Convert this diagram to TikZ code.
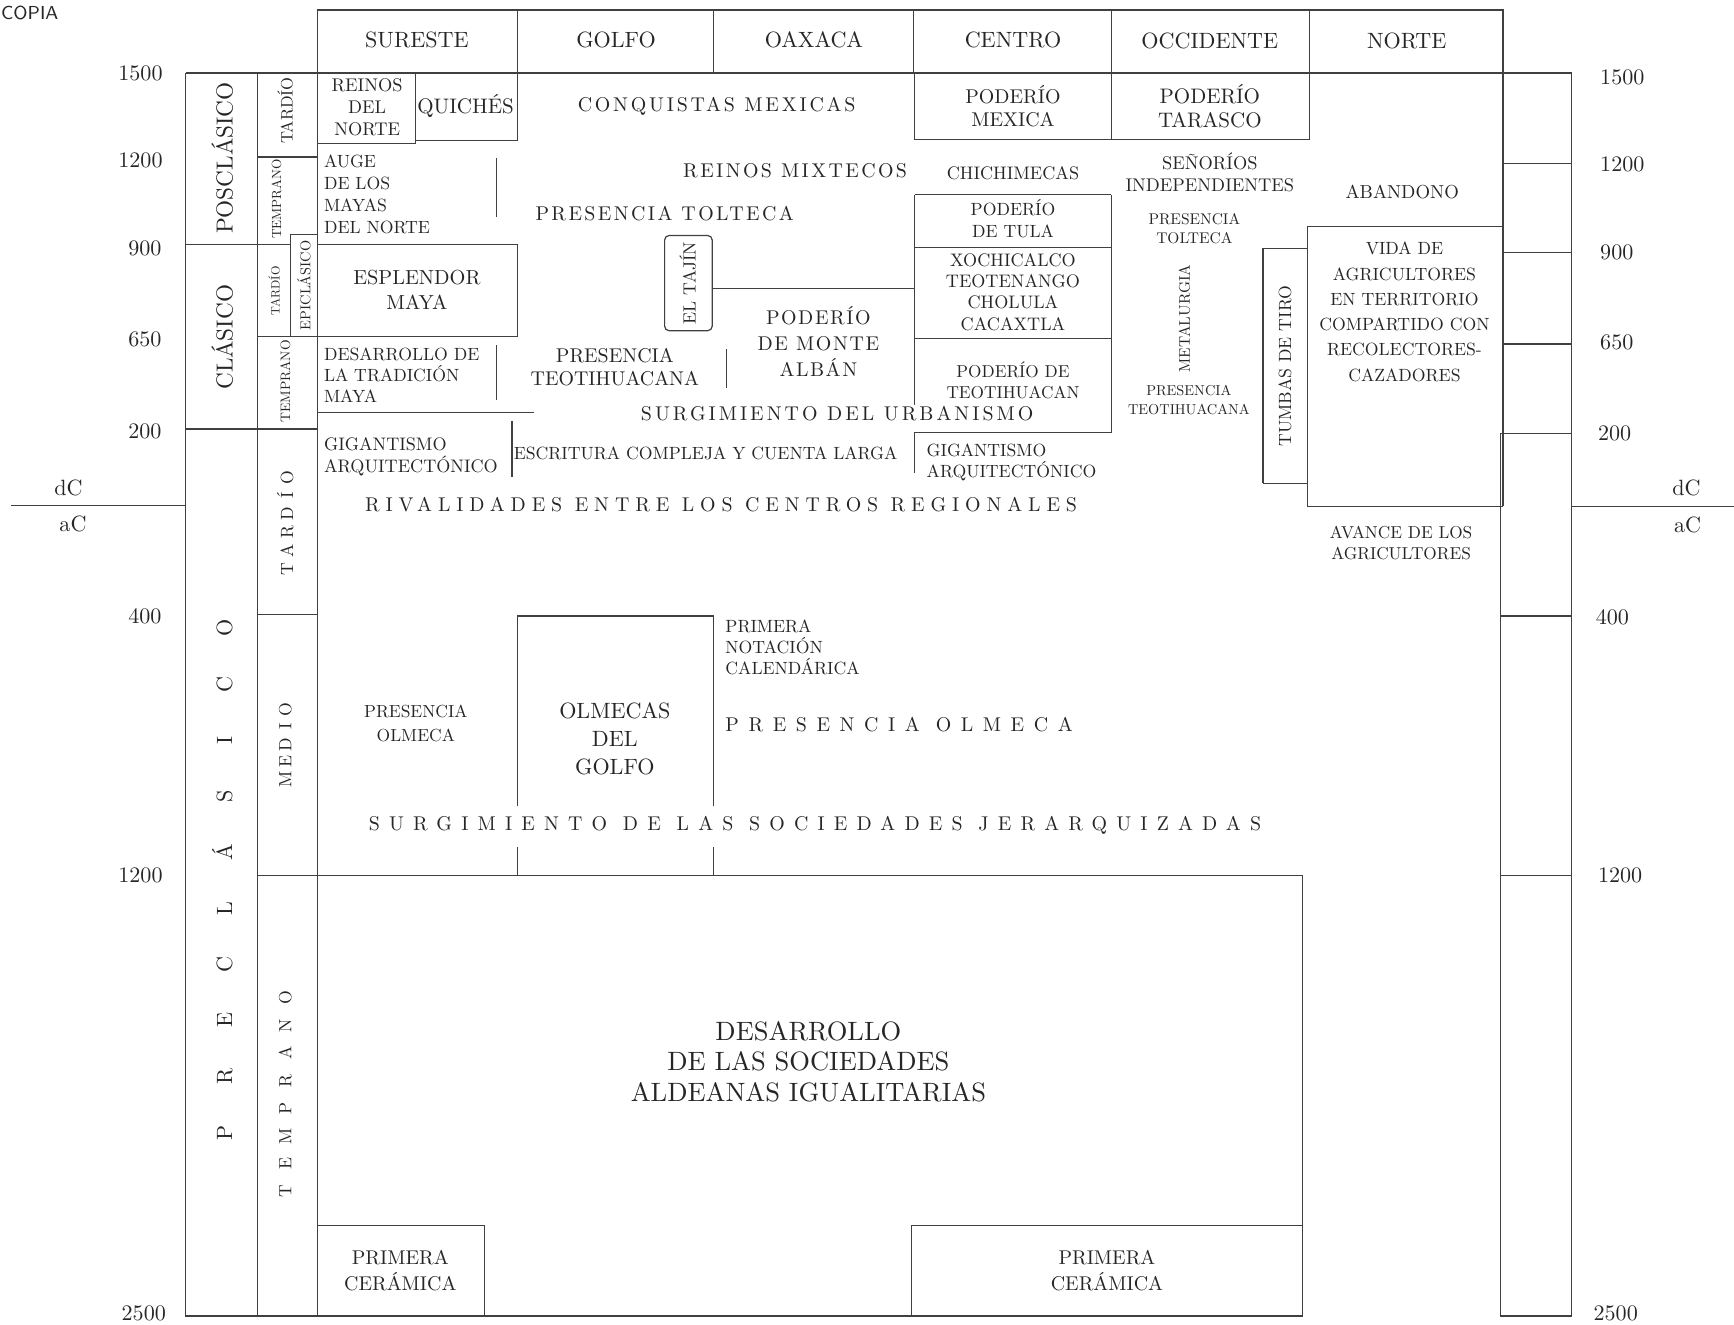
\documentclass[tikz,border=0pt]{standalone}
\usepackage{fontspec}
\setmainfont{lmroman10-regular.otf}[BoldFont=lmroman10-bold.otf,ItalicFont=lmroman10-italic.otf]
\newcommand\fz[2]{\fontsize{#1}{#2}\selectfont}
\newcommand\LS[1]{\addfontfeature{LetterSpace=#1}}
\newcommand\spreadw[2]{\foreach \ltr in {#2}{\makebox[#1][c]{\ltr}}}
\begin{document}
\begin{tikzpicture}[x=0.5pt,y=-0.5pt,
  ln/.style={line width=0.55pt,draw=black!75},
  tx/.style={inner sep=0pt,outer sep=0pt,text=black!85,align=center},
  hd/.style={tx,font=\fz{10}{12}},
  yr/.style={tx,font=\fz{10}{12}}]
\useasboundingbox (0,0) rectangle (1568,1198);

% ---------- lines ----------
\begin{scope}[ln]
% header
\draw (287,9) rectangle (1359,66);
\foreach \xx in {468,645,826,1005,1184} \draw (\xx,9) -- (\xx,66);
% left columns
\draw (168,66) -- (287,66);
\draw (168,66) -- (168,1190) -- (1178,1190);
\draw (233,66) -- (233,1190);
\draw (287,66) -- (287,1190);
\draw (168,221) -- (263,221);
\draw (168,388) -- (287,388);
\draw (233,142) -- (287,142);
\draw (263,304) -- (263,212) -- (287,212);
\draw (233,304) -- (468,304);
\draw (233,556) -- (287,556);
\draw (233,792) -- (1178,792);
% sureste
\draw (376,66) -- (376,130) -- (287,130);
\draw (376,127) -- (468,127) -- (468,66);
\draw (449,143) -- (449,196);
\draw (287,221) -- (468,221) -- (468,304);
\draw (449,312) -- (449,362);
\draw (287,373) -- (483,373);
\draw (463,381) -- (463,431);
% golfo / oaxaca
\draw[rounded corners=2] (601,213) rectangle (644,299);
\draw (644,261) -- (827,261);
\draw (657,316) -- (657,351);
% centro / occidente
\draw (827,66) -- (827,126) -- (1184,126) -- (1184,66);
\draw (1005,66) -- (1005,126);
\draw (827,176) -- (1005,176);
\draw (827,224) -- (1005,224);
\draw (827,306) -- (1005,306);
\draw (827,176) -- (827,366);
\draw (1005,176) -- (1005,391) -- (827,391) -- (827,428);
% norte
\draw (1142,437) -- (1142,225) -- (1182,225);
\draw (1142,437) -- (1182,437);
\draw (1182,205) -- (1359,205);
\draw (1182,205) -- (1182,458) -- (1359,458);
\draw (1359,66) -- (1359,458);
% right strip
\draw (1359,66) -- (1421,66) -- (1421,1190) -- (1357,1190) -- (1357,392) -- (1421,392);
\foreach \yy in {148,228,311} \draw (1359,\yy) -- (1421,\yy);
\draw (1357,557) -- (1421,557);
\draw (1357,792) -- (1421,792);
\draw (1421,458) -- (1568,458);
\draw (10,457) -- (168,457);
% lower
\draw (468,729) -- (468,557) -- (645,557) -- (645,729);
\draw (468,766) -- (468,792);
\draw (645,766) -- (645,792);
\draw (1178,792) -- (1178,1190);
\draw (287,1108) -- (438,1108) -- (438,1190);
\draw (824,1190) -- (824,1108) -- (1178,1108);
\end{scope}

% ---------- handwritten mark ----------
\node[tx,anchor=west,font=\sffamily\fz{8.5}{10}] (copia) at (1,12) {COPIA};

% ---------- header ----------
\node[hd] (hSur) at (377,36) {SURESTE};
\node[hd] (hGol) at (557,36) {GOLFO};
\node[hd] (hOax) at (736,36) {OAXACA};
\node[hd] (hCen) at (916,36) {CENTRO};
\node[hd] (hOcc) at (1094,37) {OCCIDENTE};
\node[hd] (hNor) at (1272,37) {NORTE};

% ---------- years ----------
\node[yr] (l1500) at (127,66) {1500};
\node[yr] (l1200) at (127,145) {1200};
\node[yr] (l900) at (131,225) {900};
\node[yr] (l650) at (131,307) {650};
\node[yr] (l200) at (131,390) {200};
\node[yr] (l400) at (131,557) {400};
\node[yr] (l1200b) at (127,792) {1200};
\node[yr] (l2500) at (130,1188) {2500};
\node[yr] (ldC) at (62,441) {dC};
\node[yr] (laC) at (66,474) {aC};
\node[yr] (r1500) at (1467,70) {1500};
\node[yr] (r1200) at (1467,149) {1200};
\node[yr] (r900) at (1462,228) {900};
\node[yr] (r650) at (1462,310) {650};
\node[yr] (r200) at (1460,392) {200};
\node[yr] (r400) at (1458,558) {400};
\node[yr] (r1200b) at (1465,792) {1200};
\node[yr] (r2500) at (1461,1188) {2500};
\node[yr] (rdC) at (1525,441) {dC};
\node[yr] (raC) at (1526,475) {aC};

% ---------- periods ----------
\node[tx,rotate=90,font=\fz{10.5}{12}] (pos) at (201,143) {POSCLÁSICO};
\node[tx,rotate=90,font=\fz{10.5}{12}] (cla) at (201,305) {CLÁSICO};
\node[tx,rotate=90,font=\fz{10}{12}] (pre) at (201,796) {\spreadw{25.35pt}{P,R,E,C,L,Á,S,I,C,O}};
\node[tx,rotate=90,font=\fz{7.5}{9}] (posT) at (258,100) {TARDÍO};
\node[tx,rotate=90,font=\fz{6}{7}] (posE) at (250,180) {TEMPRANO};
\node[tx,rotate=90,font=\fz{5.5}{7}] (claT) at (248,263) {TARDÍO};
\node[tx,rotate=90,font=\fz{6.5}{7}] (epi) at (275,258) {EPICLÁSICO};
\node[tx,rotate=90,font=\fz{6.2}{7}] (claE) at (258,345) {TEMPRANO};
\node[tx,rotate=90,font=\fz{8}{10}] (preT) at (258,473) {\spreadw{8.3pt}{T,A,R,D,Í,O}};
\node[tx,rotate=90,font=\fz{8}{10}] (preM) at (258,673) {\spreadw{7.9pt}{M,E,D,I,O}};
\node[tx,rotate=90,font=\fz{8}{10}] (preE) at (258,990) {\spreadw{12.5pt}{T,E,M,P,R,A,N,O}};

% ---------- posclasico ----------
\node[tx,font=\fz{8.3}{10}] (reinos) at (332,97) {REINOS\\DEL\\NORTE};
\node[tx,font=\fz{9.5}{11}] (quiches) at (421,96) {QUICHÉS};
\node[tx,font=\fz{9}{11}\LS{14}] (conq) at (648,96) {CONQUISTAS MEXICAS};
\node[tx,font=\fz{9}{10.5}] (mexica) at (916,96) {PODERÍO\\MEXICA};
\node[tx,font=\fz{9.5}{10.5}] (tarasco) at (1094,96) {PODERÍO\\TARASCO};
\node[tx,anchor=west,align=left,font=\fz{8}{10}] (auge) at (293,176) {AUGE\\DE LOS\\MAYAS\\DEL NORTE};
\node[tx,font=\fz{9}{11}\LS{12}] (mixt) at (719,154) {REINOS MIXTECOS};
\node[tx,font=\fz{8.2}{10}] (chichi) at (916,157) {CHICHIMECAS};
\node[tx,font=\fz{8.3}{10}] (senor) at (1094,156) {SEÑORÍOS\\INDEPENDIENTES};
\node[tx,font=\fz{8.5}{10}] (aband) at (1268,174) {ABANDONO};
\node[tx,font=\fz{9}{11}\LS{12}] (ptolt) at (601,193) {PRESENCIA TOLTECA};
\node[tx,font=\fz{8}{10}] (tula) at (916,198) {PODERÍO\\DE TULA};
\node[tx,font=\fz{7}{8.5}] (ptolt2) at (1080,207) {PRESENCIA\\TOLTECA};

% ---------- clasico ----------
\node[tx,font=\fz{9.2}{11.5}] (espl) at (377,262) {ESPLENDOR\\MAYA};
\node[tx,rotate=90,font=\fz{8}{10}] (tajin) at (622,256) {EL TAJÍN};
\node[tx,font=\fz{8.2}{9.7}] (xochi) at (916,264) {XOCHICALCO\\TEOTENANGO\\CHOLULA\\CACAXTLA};
\node[tx,rotate=90,font=\fz{7}{9}] (metal) at (1071,288) {METALURGIA};
\node[tx,rotate=90,font=\fz{8}{10}] (tumbas) at (1162,331) {TUMBAS DE TIRO};
\node[tx,font=\fz{8}{11.4}] (vida) at (1270,282) {VIDA DE\\AGRICULTORES\\EN TERRITORIO\\COMPARTIDO CON\\RECOLECTORES-\\CAZADORES};
\node[tx,font=\fz{9}{11.7}\LS{8}] (monte) at (740,309) {PODERÍO\\DE MONTE\\ALBÁN};
\node[tx,font=\fz{9}{10}] (pteo) at (556,332) {PRESENCIA\\TEOTIHUACANA};
\node[tx,anchor=west,align=left,font=\fz{8}{9.5}] (tradic) at (293,339) {DESARROLLO DE\\LA TRADICIÓN\\MAYA};
\node[tx,font=\fz{7.8}{9.5}] (teoti) at (916,344) {PODERÍO DE\\TEOTIHUACAN};
\node[tx,font=\fz{6.5}{8.5}] (pteo2) at (1075,362) {PRESENCIA\\TEOTIHUACANA};
\node[tx,font=\fz{9}{11}\LS{15}] (urban) at (757,374) {SURGIMIENTO DEL URBANISMO};

% ---------- preclasico ----------
\node[tx,anchor=west,align=left,font=\fz{8.2}{10}] (gig1) at (293,413) {GIGANTISMO\\ARQUITECTÓNICO};
\node[tx,font=\fz{8}{10}] (escr) at (638,410) {ESCRITURA COMPLEJA Y CUENTA LARGA};
\node[tx,anchor=west,align=left,font=\fz{8}{9.5}] (gig2) at (838,418) {GIGANTISMO\\ARQUITECTÓNICO};
\node[tx,font=\fz{9}{11}\LS{29.5}] (rival) at (652,456) {RIVALIDADES ENTRE LOS CENTROS REGIONALES};
\node[tx,font=\fz{7.8}{9.5}] (avance) at (1267,491) {AVANCE DE LOS\\AGRICULTORES};
\node[tx,anchor=west,align=left,font=\fz{8}{9.5}] (notac) at (656,585) {PRIMERA\\NOTACIÓN\\CALENDÁRICA};
\node[tx,font=\fz{7.9}{11}] (polm1) at (376,654) {PRESENCIA\\OLMECA};
\node[tx,font=\fz{10}{12.75}] (olmg) at (556,668) {OLMECAS\\DEL\\GOLFO};
\node[tx,anchor=west,font=\fz{9}{11}\LS{48}] (polm2) at (656,655) {PRESENCIA OLMECA};
\node[tx,font=\fz{9}{11}\LS{46}] (jerar) at (737,746) {SURGIMIENTO DE LAS SOCIEDADES JERARQUIZADAS};
\node[tx,font=\fz{12}{13.75}] (aldea) at (731,960) {DESARROLLO\\DE LAS SOCIEDADES\\ALDEANAS IGUALITARIAS};
\node[tx,font=\fz{9}{11.5}] (cer1) at (362,1149) {PRIMERA\\CERÁMICA};
\node[tx,font=\fz{9}{11.5}] (cer2) at (1001,1149) {PRIMERA\\CERÁMICA};
\end{tikzpicture}
\end{document}
